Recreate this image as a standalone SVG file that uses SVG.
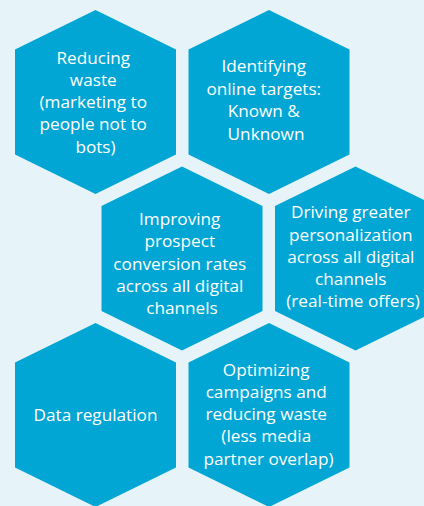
<svg xmlns="http://www.w3.org/2000/svg" xmlns:xlink="http://www.w3.org/1999/xlink" width="424" height="506" viewBox="0 0 424 506">
  <style>
    .hex { fill: #02a6d4; }
    .lbl { fill: #ffffff; font-family: "Open Sans", "Noto Sans", "DejaVu Sans", sans-serif; font-size: 17.2px; text-anchor: middle; }
  </style>
  <defs>
    <!-- pointy-top hexagon, centred on the origin -->
    <polygon id="hexShape" points="0,-92 80.5,-52.5 80.5,52.5 0,92 -80.5,52.5 -80.5,-52.5"/>
  </defs>
  <rect width="424" height="506" fill="#e6f4fa"/>

  <g id="connectors"/>

  <g id="node-reducing-waste">
    <use xlink:href="#hexShape" class="hex" transform="translate(95.5,102)"/>
    <text class="lbl" x="95.5">
      <tspan x="95.5" y="63.5">Reducing</tspan>
      <tspan x="95.5" y="85.8">waste</tspan>
      <tspan x="95.5" y="108.1">(marketing to</tspan>
      <tspan x="95.5" y="130.4">people not to</tspan>
      <tspan x="95.5" y="152.7">bots)</tspan>
    </text>
  </g>

  <g id="node-identifying-targets">
    <use xlink:href="#hexShape" class="hex" transform="translate(269,102)"/>
    <text class="lbl">
      <tspan x="266" y="72">Identifying</tspan>
      <tspan x="266" y="94.5">online targets:</tspan>
      <tspan x="266" y="117">Known &amp;</tspan>
      <tspan x="266" y="139.5">Unknown</tspan>
    </text>
  </g>

  <g id="node-improving-conversion">
    <use xlink:href="#hexShape" class="hex" transform="translate(182,258.5)"/>
    <text class="lbl">
      <tspan x="182" y="225">Improving</tspan>
      <tspan x="182" y="247.3">prospect</tspan>
      <tspan x="182" y="269.6">conversion rates</tspan>
      <tspan x="182" y="291.9">across all digital</tspan>
      <tspan x="182" y="314.2">channels</tspan>
    </text>
  </g>

  <g id="node-personalization">
    <use xlink:href="#hexShape" class="hex" transform="translate(355.5,258.5)"/>
    <text class="lbl">
      <tspan x="353" y="218.4">Driving greater</tspan>
      <tspan x="353" y="240.6">personalization</tspan>
      <tspan x="353" y="262.8">across all digital</tspan>
      <tspan x="353" y="285">channels</tspan>
      <tspan x="353" y="307.2">(real-time offers)</tspan>
    </text>
  </g>

  <g id="node-data-regulation">
    <use xlink:href="#hexShape" class="hex" transform="translate(95.5,415)"/>
    <text class="lbl" x="95.5" y="421">Data regulation</text>
  </g>

  <g id="node-optimizing-campaigns">
    <use xlink:href="#hexShape" class="hex" transform="translate(269,415)"/>
    <text class="lbl">
      <tspan x="268.5" y="375.5">Optimizing</tspan>
      <tspan x="268.5" y="397.8">campaigns and</tspan>
      <tspan x="268.5" y="420.1">reducing waste</tspan>
      <tspan x="268.5" y="442.4">(less media</tspan>
      <tspan x="268.5" y="464.7">partner overlap)</tspan>
    </text>
  </g>
</svg>
